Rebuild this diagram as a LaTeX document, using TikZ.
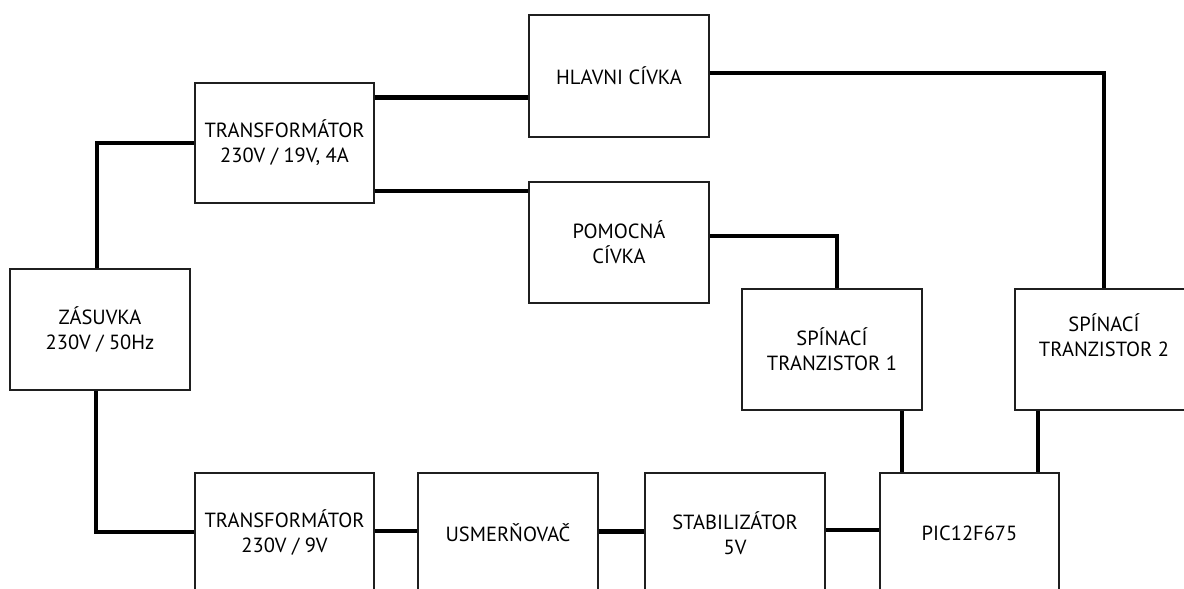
\documentclass[tikz,border=0pt]{standalone}
\usepackage{fontspec}
\setmainfont{PT Sans}
\begin{document}
\begin{tikzpicture}[x=1pt,y=-1pt,
  blk/.style={draw=black!88, line width=1.5pt, inner sep=0pt, align=center,
    minimum width=180pt, minimum height=121pt,
    font=\fontsize{20.5}{25}\selectfont},
  conn/.style={line width=4.5pt, black}]
\useasboundingbox (0,0) rectangle (1184,589);
\clip (0,0) rectangle (1184,589);
% boxes
\node[blk] (zas) at (100,329.5) {ZÁSUVKA\\230V / 50Hz};
\node[blk, minimum width=179pt, minimum height=120pt] (trA) at (284.5,143) {TRANSFORMÁTOR\\230V / 19V, 4A};
\node[blk, minimum height=122pt] (hl) at (619,76) {HLAVNI CÍVKA};
\node[blk] (pom) at (619,242.5) {POMOCNÁ\\CÍVKA};
\node[blk] (st1) at (832,349.5) {SPÍNACÍ\\TRANZISTOR 1};
\node[blk, minimum width=178pt] (st2) at (1104,349.5) {SPÍNACÍ\\TRANZISTOR 2\\[4pt]};
\node[blk, minimum width=179pt, minimum height=120pt] (trB) at (284.5,533) {TRANSFORMÁTOR\\230V / 9V};
\node[blk, minimum height=120pt] (us) at (508,533) {USMERŇOVAČ};
\node[blk, minimum height=120pt] (stab) at (735,533) {STABILIZÁTOR\\5V};
\node[blk, minimum width=179pt, minimum height=120pt] (pic) at (969.5,533) {PIC12F675};
% connectors
\draw[conn] ([xshift=-3pt]zas.north) |- (trA.west);
\draw[conn] ([xshift=-4pt]zas.south) |- ([yshift=1pt]trB.west);
\draw[conn] ([yshift=-15pt]trA.north east) -- ([yshift=-15pt]trA.north east -| hl.west);
\draw[conn] ([yshift=13pt]trA.south east) -- ([yshift=13pt]trA.south east -| pom.west);
\draw[conn] ([yshift=3pt]hl.east) -| (st2.north);
\draw[conn] ([yshift=6.5pt]pom.east) -| ([xshift=5pt]st1.north);
\draw[conn] ([xshift=-21pt]st1.south east) -- ([xshift=-21pt]st1.south east |- pic.north);
\draw[conn] ([xshift=23.5pt]st2.south west) -- ([xshift=23.5pt]st2.south west |- pic.north);
\draw[conn] ([yshift=2pt]trB.east) -- ([yshift=2pt]trB.east -| us.west);
\draw[conn] ([yshift=1.5pt]us.east) -- ([yshift=1.5pt]us.east -| stab.west);
\draw[conn] ([yshift=3pt]stab.east) -- ([yshift=3pt]stab.east -| pic.west);
\end{tikzpicture}
\end{document}
